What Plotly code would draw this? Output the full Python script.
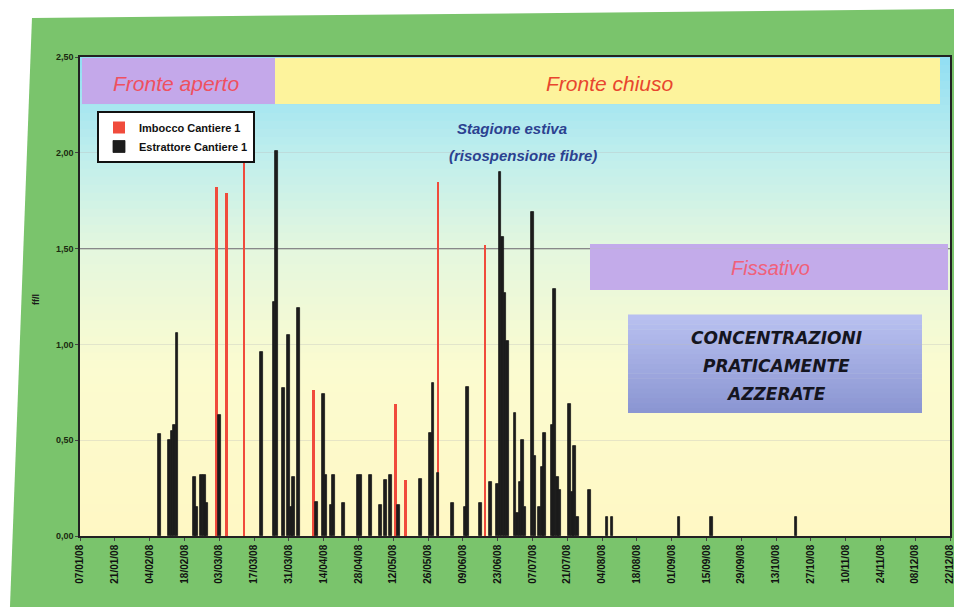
import plotly.graph_objects as go
from plotly.colors import sample_colorscale

# ---------------- data ----------------
estrattore_dates = [
    "2008-02-08", "2008-02-12", "2008-02-13", "2008-02-14", "2008-02-15",
    "2008-02-22", "2008-02-23", "2008-02-25", "2008-02-26", "2008-02-27",
    "2008-03-03", "2008-03-20", "2008-03-25", "2008-03-26", "2008-03-29",
    "2008-03-31", "2008-04-01", "2008-04-02", "2008-04-04", "2008-04-11",
    "2008-04-14", "2008-04-15", "2008-04-17", "2008-04-18", "2008-04-22",
    "2008-04-28", "2008-04-29", "2008-05-03", "2008-05-07", "2008-05-09",
    "2008-05-11", "2008-05-14", "2008-05-23", "2008-05-27", "2008-05-28",
    "2008-05-30", "2008-06-05", "2008-06-10", "2008-06-11", "2008-06-16",
    "2008-06-20", "2008-06-23", "2008-06-24", "2008-06-25", "2008-06-26",
    "2008-06-27", "2008-06-30", "2008-07-01", "2008-07-02", "2008-07-03",
    "2008-07-04", "2008-07-07", "2008-07-08", "2008-07-10", "2008-07-11",
    "2008-07-12", "2008-07-15", "2008-07-16", "2008-07-17", "2008-07-18",
    "2008-07-22", "2008-07-23", "2008-07-24", "2008-07-25", "2008-07-30",
    "2008-08-06", "2008-08-08", "2008-09-04", "2008-09-17", "2008-10-21",
]
estrattore_values = [
    0.53, 0.50, 0.55, 0.58, 1.06,
    0.31, 0.15, 0.32, 0.32, 0.17,
    0.63, 0.96, 1.22, 2.01, 0.77,
    1.05, 0.15, 0.31, 1.19, 0.18,
    0.74, 0.32, 0.16, 0.32, 0.17,
    0.32, 0.32, 0.32, 0.16, 0.29,
    0.32, 0.16, 0.30, 0.54, 0.80,
    0.33, 0.17, 0.15, 0.78, 0.17,
    0.28, 0.27, 1.90, 1.56, 1.27,
    1.02, 0.64, 0.12, 0.28, 0.50,
    0.15, 1.69, 0.42, 0.15, 0.36,
    0.54, 0.58, 1.29, 0.31, 0.24,
    0.69, 0.23, 0.47, 0.10, 0.24,
    0.10, 0.10, 0.10, 0.10, 0.10,
]
imbocco_dates = [
    "2008-03-02", "2008-03-06", "2008-03-13", "2008-04-10",
    "2008-05-13", "2008-05-17", "2008-05-30", "2008-06-18",
]
imbocco_values = [1.82, 1.79, 1.95, 0.76, 0.69, 0.29, 1.85, 1.52]

series_names = ["Imbocco Cantiere 1", "Estrattore Cantiere 1"]
y_ticks = [0, 0.5, 1.0, 1.5, 2.0, 2.5]
x_start, x_end = "2008-01-07", "2008-12-22"
threshold = 1.5

DAY = 86400000

fig = go.Figure()
fig.add_trace(go.Bar(
    x=imbocco_dates, y=imbocco_values, name=series_names[0],
    marker=dict(color="#f04b3c", line=dict(width=0)), width=DAY * 1.0,
))
fig.add_trace(go.Bar(
    x=estrattore_dates, y=estrattore_values, name=series_names[1],
    marker=dict(color="#1c1c1c", line=dict(color="#1c1c1c", width=0.8)), width=DAY * 1.1,
))

# page has an 8px body margin: figure is placed at (8, 8) in the window
OFF = 8
W, H = 962 - OFF, 607 - OFF
L, R, T, B = 80, 950, 57, 536       # plot area in window pixels
PW, PH = R - L, B - T


def px(x):
    return (x - L) / PW


def py(y):
    return (B - y) / PH


shapes = []
# outer green frame
shapes.append(dict(type="path", xref="paper", yref="paper", layer="below",
                   path="M {:.4f},{:.4f} L {:.4f},{:.4f} L {:.4f},{:.4f} L {:.4f},{:.4f} Z".format(
                       px(32), py(18), px(962), py(9), px(962), py(607), px(10), py(607)),
                   fillcolor="#7ac46c", line=dict(width=0)))
# gradient background of plot area
nb = 60
cols = sample_colorscale([[0, "#fff8c4"], [0.35, "#fbfbd0"], [0.6, "#e4f7de"],
                          [0.8, "#bfeeed"], [1, "#93dff3"]],
                         [i / (nb - 1) for i in range(nb)])
for i in range(nb):
    shapes.append(dict(type="rect", xref="paper", yref="paper", layer="below",
                       x0=0, x1=1, y0=i / nb, y1=(i + 1) / nb + 0.002,
                       fillcolor=cols[i], line=dict(width=0)))
# threshold line
shapes.append(dict(type="line", xref="paper", yref="y", layer="below",
                   x0=0, x1=1, y0=threshold, y1=threshold,
                   line=dict(color="#6d6d6d", width=1.3)))
# phase bands
shapes.append(dict(type="rect", xref="paper", yref="paper", layer="below",
                   x0=px(82), x1=px(275), y0=py(104), y1=py(58),
                   fillcolor="#c4a8ea", line=dict(width=0)))
shapes.append(dict(type="rect", xref="paper", yref="paper", layer="below",
                   x0=px(275), x1=px(940), y0=py(104), y1=py(58),
                   fillcolor="#fdf39c", line=dict(width=0)))
shapes.append(dict(type="rect", xref="paper", yref="paper", layer="below",
                   x0=px(590), x1=px(948), y0=py(290), y1=py(244),
                   fillcolor="#c3abea", line=dict(width=0)))
# concentrazioni box (vertical gradient)
nb2 = 20
cols2 = sample_colorscale([[0, "#8b96d2"], [1, "#b8c0f0"]], [i / (nb2 - 1) for i in range(nb2)])
y_lo, y_hi = py(413), py(315)
for i in range(nb2):
    shapes.append(dict(type="rect", xref="paper", yref="paper", layer="below",
                       x0=px(628), x1=px(922),
                       y0=y_lo + (y_hi - y_lo) * i / nb2,
                       y1=y_lo + (y_hi - y_lo) * (i + 1) / nb2 + 0.001,
                       fillcolor=cols2[i], line=dict(width=0)))


def note(text, x, y, size, color, family="Liberation Sans", angle=0):
    return dict(text=text, x=px(x), y=py(y), xref="paper", yref="paper",
                xanchor="center", yanchor="middle", showarrow=False, textangle=angle,
                font=dict(family=family, size=size, color=color))


ann = [
    note("<i>Fronte aperto</i>", 176, 83, 21, "#ef5060"),
    note("<i>Fronte chiuso</i>", 610, 83, 21, "#e8462e"),
    note("<i>Fissativo</i>", 770, 268, 20, "#f0607a"),
    note("<b><i>Stagione estiva</i></b>", 512, 128, 15, "#2b4190"),
    note("<b><i>(risospensione fibre)</i></b>", 523, 155, 15, "#2b4190"),
    note("<b><i>CONCENTRAZIONI</i></b>", 776, 338, 17, "#15151f", "DejaVu Sans"),
    note("<b><i>PRATICAMENTE</i></b>", 776, 366, 17, "#15151f", "DejaVu Sans"),
    note("<b><i>AZZERATE</i></b>", 776, 394, 17, "#15151f", "DejaVu Sans"),
    note("<b>ff/l</b>", 36, 300, 9, "#1a1a1a", angle=-90),
]

fig.update_layout(
    width=W, height=H,
    margin=dict(l=L - OFF, r=(OFF + W) - R, t=T - OFF, b=(OFF + H) - B, autoexpand=False),
    paper_bgcolor="white",
    plot_bgcolor="rgba(0,0,0,0)",
    barmode="overlay",
    bargap=0,
    separators=", ",
    showlegend=True,
    legend=dict(x=px(97), y=py(111), xanchor="left", yanchor="top",
                bgcolor="white", bordercolor="#111", borderwidth=2,
                font=dict(family="Liberation Sans", size=11, color="#111", weight="bold"),
                itemwidth=30, tracegroupgap=0),
    shapes=shapes,
    annotations=ann,
    xaxis=dict(type="date", range=[x_start, x_end], tick0=x_start, dtick=14 * DAY,
               tickformat="%d/%m/%y", tickangle=-90, showgrid=False, automargin=False,
               showline=True, linecolor="#222", linewidth=1.5, mirror=True,
               ticks="outside", ticklen=3, tickcolor="#444",
               tickfont=dict(family="Liberation Sans", size=10, color="#111", weight="bold")),
    yaxis=dict(range=[0, 2.5], tickvals=y_ticks, tickformat=".2f", automargin=False,
               showgrid=True, gridcolor="rgba(190,190,190,0.35)", gridwidth=1, zeroline=False,
               showline=True, linecolor="#222", linewidth=1.5, mirror=True,
               ticks="outside", ticklen=3, tickcolor="#444",
               tickfont=dict(family="Liberation Sans", size=9, color="#1a2a10", weight="bold")),
)

fig.write_html("out.html")
